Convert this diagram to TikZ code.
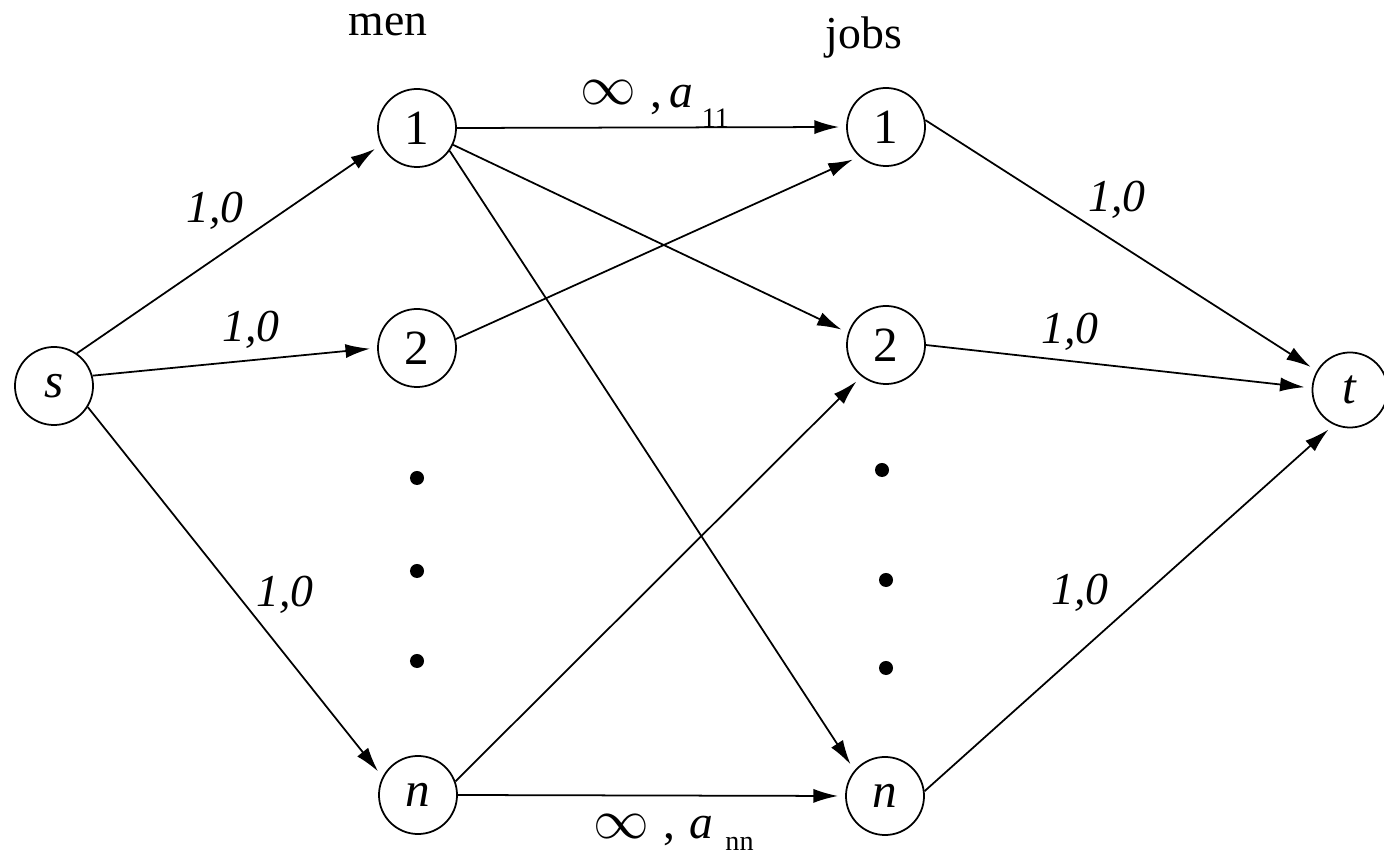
\documentclass[tikz,border=0pt]{standalone}
\usepackage{fontspec}
\setmainfont{Liberation Serif}
\usetikzlibrary{arrows.meta}
\begin{document}
\begin{tikzpicture}[x=0.01cm,y=-0.01cm,
  vtx/.style={draw,circle,minimum size=0.78cm,inner sep=0pt,line width=0.5pt,font=\fontsize{14}{16}\selectfont},
  arc/.style={-{Latex[length=7pt,width=4pt]},line width=0.5pt,shorten >=2pt},
  lab/.style={font=\fontsize{13}{15}\selectfont\itshape},
  head/.style={font=\fontsize{13}{15}\selectfont},
  cost/.style={font=\fontsize{13.5}{15}\selectfont,inner sep=0pt,anchor=base west},
  dot/.style={circle,fill,inner sep=0pt,minimum size=0.14cm}]
\useasboundingbox (0,0) rectangle (1384,852);
\node[vtx] (s) at (54,386) {\textit{s}};
\node[vtx] (m1) at (417,128) {1};
\node[vtx] (m2) at (417,348) {2};
\node[vtx] (mn) at (418,795) {\textit{n}};
\node[vtx] (j1) at (886,127) {1};
\node[vtx] (j2) at (886,345) {2};
\node[vtx] (jn) at (885,796) {\textit{n}};
\node[vtx,minimum size=0.75cm] (t) at (1350,390) {\textit{t}};
\node[head] (men) at (388,25) {men};
\node[head] (jobs) at (864,38) {jobs};
\node[dot] (d1) at (417,478) {};
\node[dot] (d2) at (417,571) {};
\node[dot] (d3) at (417,661) {};
\node[dot] (d4) at (882,470) {};
\node[dot] (d5) at (886,580) {};
\node[dot] (d6) at (886,668) {};
\draw[arc] (s.55) -- (m1.205);
\draw[arc] (s.15) -- (m2.180);
\draw[arc] (s.-32) -- (mn.153);
\draw[arc] (m1.east) -- (j1.west);
\draw[arc] (m1.-25) -- (j2.162);
\draw[arc] (m1.-35) -- (jn.140);
\draw[arc] (m2.13) -- (j1.228);
\draw[arc] (mn.20) -- (j2.232);
\draw[arc] (mn.east) -- (jn.west);
\draw[arc] (j1.10) -- (t.150);
\draw[arc] (j2.0) -- (t.177);
\draw[arc] (jn.7) -- (t.245);
\node[lab] (l1) at (215,211) {1,0};
\node[lab] (l2) at (251,330) {1,0};
\node[lab] (l3) at (285,595) {1,0};
\node[lab] (l4) at (1117,200) {1,0};
\node[lab] (l5) at (1070,332) {1,0};
\node[lab] (l6) at (1080,593) {1,0};
\node[cost] (c1) at (580,108) {\raisebox{1pt}{\scalebox{1.1}{$\infty$}}\hspace{4pt},\hspace{2pt}\textit{a}\hspace{2.5pt}\raisebox{-5.6pt}{\fontsize{8}{9}\selectfont 11}};
\node[cost] (c2) at (593,839) {\scalebox{1.1}{$\infty$}\hspace{4pt},\hspace{4pt}\textit{a}\hspace{3.5pt}\raisebox{-3.2pt}{\fontsize{8}{9}\selectfont nn}};
\end{tikzpicture}
\end{document}
